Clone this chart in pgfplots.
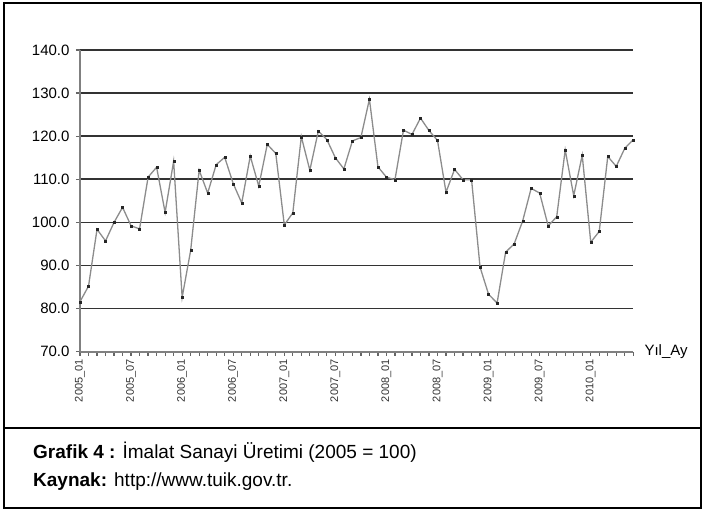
\documentclass[border=0pt]{standalone}
\usepackage{fontspec}
\setmainfont{Liberation Sans}
\usepackage{pgfplots}
\pgfplotsset{compat=1.18}

% monthly index, 2005_01 = 0 ... 2010_06 = 65
\pgfplotstableread{
m   v
0   81.6
1   85.2
2   98.4
3   95.7
4   100.0
5   103.5
6   99.2
7   98.5
8   110.5
9   112.8
10  102.3
11  114.2
12  82.6
13  93.5
14  112.1
15  106.8
16  113.4
17  115.1
18  109.0
19  104.5
20  115.4
21  108.4
22  118.1
23  116.0
24  99.4
25  102.2
26  119.9
27  112.1
28  121.2
29  119.2
30  115.0
31  112.4
32  118.9
33  119.7
34  128.6
35  112.9
36  110.5
37  109.9
38  121.4
39  120.4
40  124.2
41  121.3
42  119.0
43  107.0
44  112.3
45  109.9
46  109.9
47  89.6
48  83.3
49  81.3
50  93.1
51  95.0
52  100.3
53  107.9
54  106.8
55  99.2
56  101.3
57  116.8
58  106.2
59  115.6
60  95.4
61  97.9
62  115.3
63  113.0
64  117.2
65  119.2
}\uretim

\begin{document}
\begin{tikzpicture}[x=1pt,y=1pt]
\useasboundingbox (0,0) rectangle (705,511);
\draw[line width=2pt] (4,3) rectangle (701,508);
\draw[line width=2.5pt] (4,83) -- (701,83);
\begin{axis}[
  at={(80pt,159.3pt)}, anchor=south west,
  scale only axis, width=553.3pt, height=301.7pt,
  xmin=0, xmax=65, ymin=70, ymax=140,
  axis x line*=bottom, axis y line*=left,
  axis line style={-, black!50, line width=2pt},
  ytick={70,80,...,140},
  ymajorgrids, major grid style={black!80, line width=1.7pt},
  xtick={0,6,...,60},
  xticklabels={2005\_01,2005\_07,2006\_01,2006\_07,2007\_01,2007\_07,2008\_01,2008\_07,2009\_01,2009\_07,2010\_01},
  minor xtick={0,...,65},
  tick align=outside,
  major tick length=4pt, minor tick length=4pt,
  tick style={black!60, line width=1.2pt},
  y tick label style={font=\fontsize{15}{18}\selectfont, xshift=-3pt,
    /pgf/number format/fixed, /pgf/number format/fixed zerofill,
    /pgf/number format/precision=1, /pgf/number format/assume math mode=true},
  x tick label style={font=\fontsize{11}{13}\selectfont, rotate=90, anchor=east, text=black!80},
  xlabel={Yıl\_Ay},
  xlabel style={at={(rel axis cs:1,0)}, anchor=west, xshift=11pt, inner sep=0pt,
    font=\fontsize{15}{17}\selectfont},
  clip=false,
]
\addplot[draw=black!45, line width=1.3pt, mark=square*, mark size=1pt,
  mark options={draw=black!85, fill=black!85, line width=0.2pt}] table[x=m, y=v] {\uretim};
\end{axis}
\node[anchor=base west, inner sep=0pt, font=\fontsize{19}{21}\selectfont] at (33,52.5)
  {\textbf{Grafik 4 :} İmalat Sanayi Üretimi (2005 = 100)};
\node[anchor=base west, inner sep=0pt, font=\fontsize{19}{21}\selectfont] at (33,24.5)
  {\textbf{Kaynak:} http://www.tuik.gov.tr.};
\end{tikzpicture}
\end{document}
